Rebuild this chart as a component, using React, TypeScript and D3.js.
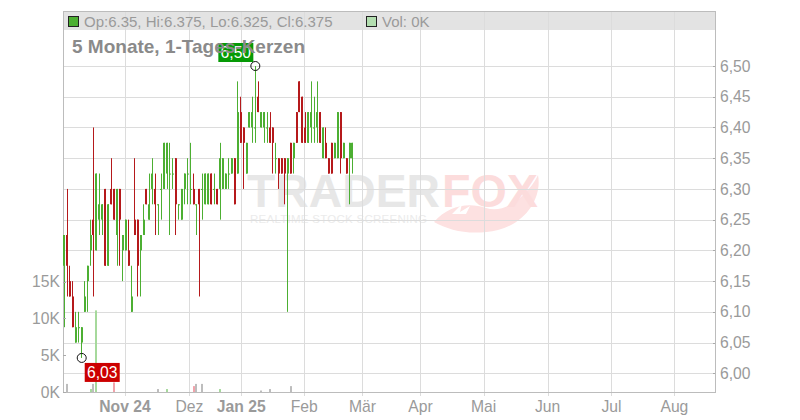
import React from "react";
import * as d3 from "d3";

// ---------- data ----------
const opens = [
  6.175, 6.225, 6.15, 6.125, 6.05, 6.075, 6.05, 6.1, 6.15, 6.2,
  6.25, 6.2, 6.25, 6.25, 6.3, 6.175, 6.3, 6.3, 6.225, 6.3,
  6.2, 6.2, 6.2, 6.1, 6.25, 6.25, 6.2, 6.225, 6.3, 6.25,
  6.3, 6.3, 6.275, 6.3, 6.3, 6.325, 6.325, 6.325, 6.35, 6.275,
  6.25, 6.3, 6.325, 6.3, 6.3, 6.275, 6.3, 6.3, 6.275, 6.275,
  6.325, 6.3, 6.3, 6.3, 6.3, 6.3, 6.325, 6.325, 6.35, 6.325,
  6.425, 6.4, 6.325, 6.4, 6.4, 6.4, 6.45, 6.4, 6.4, 6.4,
  6.4, 6.4, 6.35, 6.35, 6.35, 6.35, 6.325, 6.375, 6.35, 6.425,
  6.475, 6.45, 6.4, 6.375, 6.4, 6.4, 6.4, 6.425, 6.35, 6.375,
  6.35, 6.375, 6.35, 6.35, 6.425, 6.35, 6.35, 6.35, 6.35,
];
const highs = [
  6.225, 6.3, 6.175, 6.15, 6.1, 6.1, 6.075, 6.15, 6.175, 6.25,
  6.4, 6.325, 6.325, 6.275, 6.3, 6.275, 6.35, 6.3, 6.3, 6.3,
  6.225, 6.25, 6.25, 6.175, 6.35, 6.25, 6.225, 6.275, 6.3, 6.325,
  6.35, 6.325, 6.275, 6.325, 6.375, 6.375, 6.375, 6.35, 6.35, 6.275,
  6.3, 6.325, 6.35, 6.375, 6.325, 6.275, 6.3, 6.325, 6.325, 6.325,
  6.325, 6.325, 6.3, 6.375, 6.35, 6.325, 6.35, 6.35, 6.35, 6.475,
  6.45, 6.4, 6.375, 6.425, 6.45, 6.5, 6.475, 6.425, 6.425, 6.425,
  6.425, 6.4, 6.375, 6.35, 6.35, 6.35, 6.35, 6.375, 6.375, 6.425,
  6.475, 6.45, 6.425, 6.425, 6.475, 6.45, 6.475, 6.425, 6.4, 6.4,
  6.35, 6.375, 6.375, 6.425, 6.425, 6.375, 6.35, 6.375, 6.375,
];
const lows = [
  6.075, 6.125, 6.125, 6.075, 6.05, 6.05, 6.025, 6.1, 6.1, 6.175,
  6.125, 6.2, 6.225, 6.225, 6.175, 6.175, 6.275, 6.25, 6.175, 6.175,
  6.15, 6.2, 6.175, 6.1, 6.225, 6.125, 6.125, 6.225, 6.275, 6.25,
  6.275, 6.225, 6.225, 6.25, 6.3, 6.3, 6.225, 6.3, 6.225, 6.25,
  6.25, 6.275, 6.275, 6.275, 6.275, 6.225, 6.125, 6.25, 6.275, 6.275,
  6.275, 6.275, 6.275, 6.25, 6.3, 6.3, 6.3, 6.325, 6.275, 6.325,
  6.375, 6.3, 6.325, 6.4, 6.375, 6.375, 6.425, 6.4, 6.375, 6.375,
  6.375, 6.325, 6.325, 6.3, 6.325, 6.275, 6.1, 6.325, 6.325, 6.375,
  6.425, 6.375, 6.375, 6.375, 6.375, 6.375, 6.375, 6.375, 6.35, 6.35,
  6.325, 6.325, 6.35, 6.35, 6.325, 6.35, 6.325, 6.275, 6.325,
];
const closes = [
  6.225, 6.175, 6.125, 6.075, 6.075, 6.075, 6.075, 6.125, 6.175, 6.225,
  6.225, 6.325, 6.275, 6.275, 6.175, 6.275, 6.275, 6.25, 6.3, 6.25,
  6.225, 6.25, 6.175, 6.125, 6.225, 6.175, 6.225, 6.25, 6.275, 6.275,
  6.325, 6.275, 6.275, 6.3, 6.375, 6.375, 6.325, 6.325, 6.275, 6.275,
  6.3, 6.325, 6.325, 6.3, 6.275, 6.275, 6.275, 6.3, 6.325, 6.325,
  6.275, 6.3, 6.275, 6.35, 6.35, 6.325, 6.325, 6.35, 6.275, 6.425,
  6.375, 6.375, 6.375, 6.425, 6.425, 6.4, 6.425, 6.425, 6.425, 6.4,
  6.375, 6.375, 6.35, 6.325, 6.325, 6.325, 6.35, 6.325, 6.375, 6.375,
  6.425, 6.375, 6.375, 6.425, 6.425, 6.4, 6.425, 6.375, 6.4, 6.35,
  6.325, 6.325, 6.375, 6.425, 6.35, 6.375, 6.325, 6.375, 6.375,
];

// volume bars: trading-day index, volume, direction
const volIndex = [1, 9, 10, 11, 17, 32, 35, 44, 45, 47, 53, 67, 70, 77];
const volValue = [1100, 400, 1100, 11100, 1300, 400, 400, 800, 1100, 1100, 400, 200, 400, 800];
const volDir = ["flat", "up", "flat", "up", "down", "flat", "up", "down", "flat", "flat", "up", "flat", "flat", "flat"];

// month ticks on the trading-day axis
const monthLabels = ["Nov 24", "Dez", "Jan 25", "Feb", "Mär", "Apr", "Mai", "Jun", "Jul", "Aug"];
const monthPos = [20.7, 42.6, 60.2, 81.6, 101.4, 121.1, 142.6, 164.3, 186, 207.4];
const monthBold = [true, false, true, false, false, false, false, false, false, false];

const priceTicks = [6.0, 6.05, 6.1, 6.15, 6.2, 6.25, 6.3, 6.35, 6.4, 6.45, 6.5];
const volTicks = [0, 5000, 10000, 15000];

const title = "5 Monate, 1-Tages-Kerzen";
const headerText = "Op:6.35, Hi:6.375, Lo:6.325, Cl:6.375";
const volText = "Vol: 0K";

// ---------- style ----------
const W = 800;
const H = 420;
const L = 63;
const R = 715;
const TOP = 11;
const HEAD_B = 30;
const BOT = 392;
const FONT = "'Liberation Sans', Arial, Helvetica, sans-serif";
const UP = "#4caf32";
const DOWN = "#b5191b";
const GRID = "#dcdcdc";
const AXIS_TXT = "#9a9a9a";

export default function App() {
  const x = d3.scaleLinear().domain([-0.36, 221.2]).range([L, R]);
  const y = d3.scaleLinear().domain([6.0, 6.5]).range([373.3, 66]);
  const yv = d3.scaleLinear().domain([0, 15000]).range([BOT, 281.7]);
  const fmt = (v: number) =>
    d3.format(".2f")(Math.round(v * 100 + 1e-6) / 100).replace(".", ",");
  const crisp = (v: number) => Math.round(v) + 0.5;

  const candles = opens.map((o, i) => ({
    i,
    o,
    h: highs[i],
    l: lows[i],
    c: closes[i],
  }));

  const hiIdx = d3.maxIndex(highs);
  const loIdx = d3.minIndex(lows);
  const hx = x(hiIdx);
  const hy = y(highs[hiIdx]);
  const lx = x(loIdx);
  const ly = y(lows[loIdx]);

  const volColor: Record<string, string> = {
    up: "#a6d99c",
    down: "#f2a3ab",
    flat: "#bdbdbd",
  };

  return (
    <svg
      width={W}
      height={H}
      style={{ position: "absolute", left: 0, top: 0, background: "#fff" }}
      fontFamily={FONT}
    >
      <rect x={0} y={0} width={W} height={H} fill="#fff" />
      {/* header band */}
      <rect x={L} y={TOP} width={R - L} height={HEAD_B - TOP} fill="#e3e3e3" />

      {/* watermark */}
      <g>
        <path
          d="M 434 222 C 448 206, 468 202, 486 208 C 498 212, 512 206, 522 196 C 530 188, 535 182, 538 175 C 542 196, 528 222, 498 230 C 472 236, 450 231, 434 222 Z"
          fill="#fde1e1"
        />
        <path
          d="M 452 214 L 462 204 L 460 212 L 470 206 L 466 214 Z"
          fill="#ffffff"
        />
        <text
          x={247}
          y={207}
          fontSize={46}
          fontWeight={900}
          fill="#e7e7e7"
          textLength={193}
          lengthAdjust="spacingAndGlyphs"
        >
          TRADER
        </text>
        <text
          x={442}
          y={207}
          fontSize={46}
          fontWeight={900}
          fill="#fcdcdc"
          textLength={96}
          lengthAdjust="spacingAndGlyphs"
        >
          FOX
        </text>
        <text
          x={250}
          y={223}
          fontSize={11.5}
          fill="#ebebeb"
          textLength={177}
          lengthAdjust="spacing"
        >
          REALTIME STOCK SCREENING
        </text>
      </g>

      {/* horizontal grid */}
      {priceTicks.map((p) => (
        <line
          key={"hg" + p}
          x1={L}
          x2={R}
          y1={crisp(y(p))}
          y2={crisp(y(p))}
          stroke={GRID}
          strokeWidth={1}
        />
      ))}
      {/* vertical grid */}
      {monthPos.map((m, k) => (
        <line
          key={"vg" + k}
          x1={crisp(x(m))}
          x2={crisp(x(m))}
          y1={TOP}
          y2={BOT + 4}
          stroke={GRID}
          strokeWidth={1}
        />
      ))}

      {/* plot frame */}
      <rect
        x={L + 0.5}
        y={TOP + 0.5}
        width={R - L}
        height={BOT - TOP}
        fill="none"
        stroke="#bcbcbc"
        strokeWidth={1}
      />

      {/* volume bars */}
      {volIndex.map((vi, k) => (
        <rect
          key={"v" + k}
          x={Math.round(x(vi) - 1)}
          y={yv(volValue[k])}
          width={2}
          height={BOT - yv(volValue[k])}
          fill={volColor[volDir[k]]}
        />
      ))}

      {/* candles */}
      {candles.map((d) => {
        const cx = x(d.i);
        const up = d.c >= d.o;
        const col = up ? UP : DOWN;
        const top = y(Math.max(d.o, d.c));
        const bot = y(Math.min(d.o, d.c));
        return (
          <g key={"c" + d.i}>
            <rect
              x={Math.round(cx - 0.5)}
              y={y(d.h)}
              width={1}
              height={Math.max(1, y(d.l) - y(d.h))}
              fill={col}
            />
            <rect
              x={Math.round(cx - 1)}
              y={top}
              width={2}
              height={Math.max(1, bot - top)}
              fill={col}
            />
          </g>
        );
      })}

      {/* right price axis */}
      {priceTicks.map((p) => (
        <g key={"pt" + p}>
          <line
            x1={R - 2}
            x2={R}
            y1={crisp(y(p))}
            y2={crisp(y(p))}
            stroke="#aaa"
          />
          <text
            x={R + 5}
            y={y(p)}
            dy="0.36em"
            fontSize={15.7}
            fill={AXIS_TXT}
          >
            {fmt(p)}
          </text>
        </g>
      ))}

      {/* left volume axis */}
      {volTicks.map((v) => (
        <g key={"vt" + v}>
          <line
            x1={L}
            x2={L + 3}
            y1={crisp(yv(v))}
            y2={crisp(yv(v))}
            stroke="#aaa"
          />
          <text
            x={L - 3}
            y={yv(v)}
            dy="0.36em"
            fontSize={15.7}
            fill={AXIS_TXT}
            textAnchor="end"
          >
            {v / 1000 + "K"}
          </text>
        </g>
      ))}

      {/* bottom month labels */}
      {monthLabels.map((lab, k) => (
        <text
          key={"ml" + k}
          x={x(monthPos[k])}
          y={412}
          fontSize={15.7}
          fontWeight={monthBold[k] ? 700 : 400}
          fill={AXIS_TXT}
          textAnchor="middle"
        >
          {lab}
        </text>
      ))}

      {/* header legend */}
      <rect x={68.5} y={16.5} width={10} height={10} fill={UP} stroke="#222" strokeWidth={1} />
      <text x={84} y={27} fontSize={15} fill={AXIS_TXT}>
        {headerText}
      </text>
      <rect x={366.5} y={16.5} width={10} height={10} fill="#b3deb0" stroke="#222" strokeWidth={1} />
      <text x={382} y={27} fontSize={15} fill={AXIS_TXT}>
        {volText}
      </text>

      {/* high marker */}
      <rect x={hx - 37} y={hy - 23} width={35} height={19} fill="#069a06" />
      <text
        x={hx - 19.5}
        y={hy - 13.5}
        dy="0.36em"
        fontSize={15.7}
        fill="#fff"
        textAnchor="middle"
      >
        {fmt(highs[hiIdx])}
      </text>

      {/* title */}
      <text x={72} y={53} fontSize={19} fontWeight={700} fill="#8a8a8a">
        {title}
      </text>

      <circle cx={hx} cy={hy} r={4.5} fill="none" stroke="#111" strokeWidth={1} />

      {/* low marker */}
      <rect x={lx + 3} y={ly + 5} width={35} height={19} fill="#cc0000" />
      <text
        x={lx + 20.5}
        y={ly + 14.5}
        dy="0.36em"
        fontSize={15.7}
        fill="#fff"
        textAnchor="middle"
      >
        {fmt(lows[loIdx])}
      </text>
      <circle cx={lx} cy={ly} r={4.5} fill="none" stroke="#111" strokeWidth={1} />
    </svg>
  );
}
